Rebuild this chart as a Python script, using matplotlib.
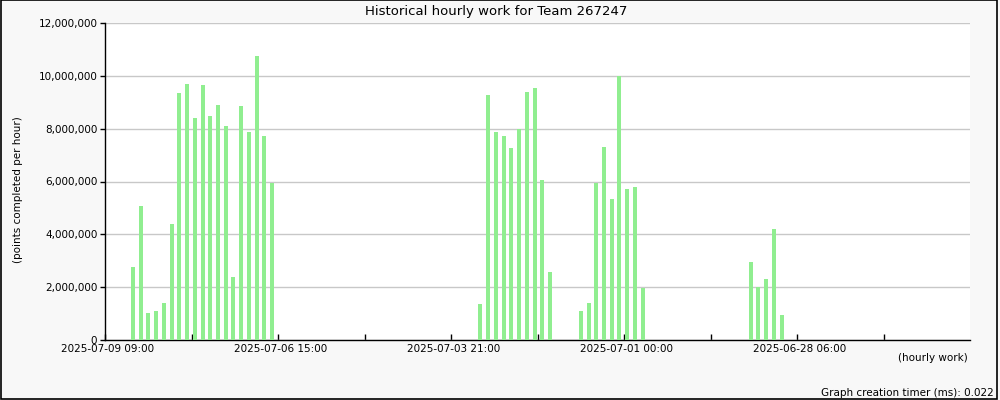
import matplotlib
matplotlib.use("Agg")
import matplotlib.pyplot as plt
from matplotlib.patches import Rectangle
from matplotlib.transforms import ScaledTranslation
from matplotlib.ticker import FuncFormatter

# slot index of each bar (one slot per time bin, left to right) and its value
slots = list(range(0, 19)) + list(range(45, 55)) + list(range(58, 67)) + list(range(80, 85))
points = [
    2760000, 5070000, 1020000, 1100000, 1400000, 4390000, 9350000, 9690000, 8400000, 9650000,
    8480000, 8890000, 8100000, 2380000, 8860000, 7870000, 10750000, 7720000, 5940000,
    1360000, 9270000, 7870000, 7720000, 7270000, 7990000, 9390000, 9540000, 6060000, 2570000,
    1100000, 1400000, 5940000, 7310000, 5340000, 9990000, 5720000, 5790000, 1970000,
    2950000, 2010000, 2310000, 4200000, 950000,
]
date_labels = ["2025-07-09 09:00", "2025-07-06 15:00", "2025-07-03 21:00",
               "2025-07-01 00:00", "2025-06-28 06:00"]
title = "Historical hourly work for Team 267247"
timer_ms = 0.022

x_lo, x_hi = -3.63, 108.4
span = x_hi - x_lo

fig = plt.figure(figsize=(10, 4), dpi=100, facecolor="#f8f8f8")
ax = fig.add_axes([0.105, 0.15, 0.865, 0.7925])
ax.set_facecolor("white")

ax.bar(slots, points, width=0.52, color="#90ee90", zorder=3)

ax.set_xlim(x_lo, x_hi)
ax.set_ylim(0, 12000000)
ax.set_yticks(range(0, 12000001, 2000000))
ax.yaxis.set_major_formatter(FuncFormatter(lambda v, p: "{:,.0f}".format(v)))
ax.grid(axis="y", color="#c8c8c8", linewidth=1, zorder=0)

ax.set_xticks([x_lo + span * i / 5 for i in range(5)])
ax.set_xticklabels(date_labels)
ax.set_xticks([x_lo + span * (i + 0.5) / 5 for i in range(5)], minor=True)
ax.tick_params(axis="x", which="both", direction="in", length=4.5, width=1, labelsize=7.5, pad=3)
ax.tick_params(axis="y", direction="out", length=3.5, width=1, labelsize=7.5, pad=2)
shift = ScaledTranslation(3 / 100, 0, fig.dpi_scale_trans)
for lbl in ax.get_xticklabels():
    lbl.set_transform(lbl.get_transform() + shift)

for side in ["top", "right"]:
    ax.spines[side].set_visible(False)
for side in ["left", "bottom"]:
    ax.spines[side].set_linewidth(1)

fig.text(0.4965, 1 - 11 / 400, title, ha="center", va="center", fontsize=9.5)
fig.text(0.018, 1 - 190 / 400, "(points completed per hour)", rotation=90,
         ha="center", va="center", fontsize=7.5)
fig.text(0.968, 1 - 358 / 400, "(hourly work)", ha="right", va="center", fontsize=7.5)
fig.text(0.994, 1 - 393 / 400, "Graph creation timer (ms): %s" % timer_ms,
         ha="right", va="center", fontsize=7.5)

fig.add_artist(Rectangle((0.0005, 0.003), 0.9965, 0.996, transform=fig.transFigure,
                         fill=False, edgecolor="black", linewidth=1.2))

fig.savefig("out.png", dpi=100, facecolor=fig.get_facecolor())
